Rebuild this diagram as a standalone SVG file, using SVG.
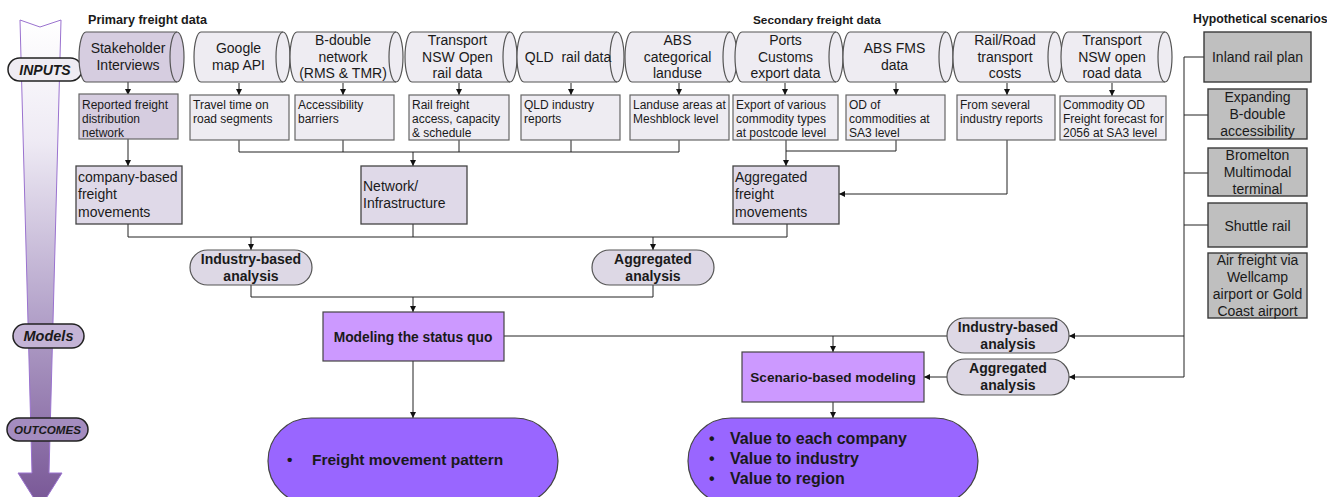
<svg xmlns="http://www.w3.org/2000/svg" width="1327" height="497" viewBox="0 0 1327 497">
<style>
text{font-family:"Liberation Sans",Arial,sans-serif;fill:#1a1a1a}
.t14{font-size:14px}
.t12{font-size:12px}
.c{text-anchor:middle}
.b{font-weight:bold}
.cyl{fill:#eeecf2;stroke:#555;stroke-width:1.2}
.cylD{fill:#d6cde0;stroke:#555;stroke-width:1.2}
.cap{fill:none;stroke:#555;stroke-width:1.2}
.sub{fill:#eeecf2;stroke:#666;stroke-width:1.2}
.subD{fill:#d6cde0;stroke:#666;stroke-width:1.2}
.mid{fill:#dfd9e8;stroke:#444;stroke-width:1.3}
.pill{fill:#ddd8e5;stroke:#555;stroke-width:1.2}
.gray{fill:#bfbfbf;stroke:#3a3a3a;stroke-width:1.4}
.model{fill:#cc99ff;stroke:#444;stroke-width:1.2}
.out{fill:#9966ff;stroke:#444;stroke-width:1.2}
.lbl{stroke:#222;stroke-width:1.5}
.conn{stroke:#222;stroke-width:1;fill:none}
.arr{marker-end:url(#ah)}
.title{font-size:12.3px;font-weight:bold}
.side{font-weight:bold;font-style:italic}
</style>
<defs>
<marker id="ah" viewBox="0 0 8 8" refX="8" refY="4" markerWidth="6" markerHeight="6" orient="auto"><path d="M0,0 L8,4 L0,8 z" fill="#111"/></marker>
<linearGradient id="bigArrow" x1="0" y1="0" x2="0" y2="1">
<stop offset="0" stop-color="#ffffff"/>
<stop offset="0.25" stop-color="#eeeaf4"/>
<stop offset="0.6" stop-color="#b4a3ca"/>
<stop offset="1" stop-color="#775595"/>
</linearGradient>
</defs>

<!-- big side arrow -->
<g id="side-arrow">
<path d="M20,20 L40,27 L61,20 L49,473 L62,473 L40,508 L18,473 L32,473 Z" fill="url(#bigArrow)" stroke="#9a72cf" stroke-width="1"/>
<rect x="8" y="58" width="74" height="23" rx="11.5" fill="#efecf3" class="lbl"/>
<text x="45" y="75" class="side c" style="font-size:14px">INPUTS</text>
<rect x="13" y="324" width="71" height="24" rx="12" fill="#c4b4d6" class="lbl"/>
<text x="48.5" y="341" class="side c" style="font-size:14.5px">Models</text>
<rect x="7" y="418" width="81" height="23" rx="11.5" fill="#a48cbf" class="lbl"/>
<text x="47.5" y="434" class="side c" style="font-size:11.6px">OUTCOMES</text>
</g>

<!-- titles -->
<text x="88" y="23.5" class="title" style="font-size:12.6px">Primary freight data</text>
<text x="753" y="23.5" class="title" style="font-size:11.8px">Secondary freight data</text>
<text x="1193" y="22.5" class="title">Hypothetical scenarios</text>

<!-- connectors -->
<g id="connectors">
<path class="conn arr" d="M128,82 V95"/>
<path class="conn arr" d="M239,83 V95"/>
<path class="conn arr" d="M343,83 V95"/>
<path class="conn arr" d="M459,83 V95"/>
<path class="conn arr" d="M571,83 V95"/>
<path class="conn arr" d="M679,83 V95"/>
<path class="conn arr" d="M785,83 V95"/>
<path class="conn arr" d="M896,83 V95"/>
<path class="conn arr" d="M1007,83 V95"/>
<path class="conn arr" d="M1112,83 V96"/>
<path class="conn arr" d="M128,139 V166"/>
<path class="conn" d="M239,140 V152 H679 V140 M343,140 V152 M459,140 V152 M571,140 V152"/>
<path class="conn arr" d="M413,152 V166"/>
<path class="conn" d="M896,140 V151 H786"/>
<path class="conn arr" d="M786,140 V166"/>
<path class="conn arr" d="M1007,140 V194 H839"/>
<path class="conn" d="M128,224 V237 H787 V224 M413,224 V237"/>
<path class="conn arr" d="M251,237 V250"/>
<path class="conn arr" d="M653,237 V250"/>
<path class="conn" d="M251,285 V297 H653 V285"/>
<path class="conn arr" d="M413,297 V312"/>
<path class="conn arr" d="M413,361 V418"/>
<path class="conn" d="M504,336 H947"/>
<path class="conn arr" d="M833,336 V352"/>
<path class="conn arr" d="M833,402 V418"/>
<path class="conn arr" d="M947,377 H924"/>
<path class="conn" d="M1204,57 H1184 V377 M1184,115 H1208 M1184,173 H1208 M1184,225 H1208"/>
<path class="conn arr" d="M1184,336 H1069"/>
<path class="conn arr" d="M1184,377 H1069"/>
</g>

<!-- cylinders -->
<g id="stakeholder-interviews">
<path class="cylD" d="M86,32 H177 A7 25 0 0 1 177,82 H86 A7 25 0 0 1 86,32 Z"/>
<path class="cap" d="M177,32 A7 25 0 0 0 177,82"/>
<text class="t14 c" x="128" y="53">Stakeholder</text>
<text class="t14 c" x="128" y="70">Interviews</text>
</g>
<g id="google-map-api">
<path class="cyl" d="M201,32 H283 A7 25 0 0 1 283,82 H201 A7 25 0 0 1 201,32 Z"/>
<path class="cap" d="M283,32 A7 25 0 0 0 283,82"/>
<text class="t14 c" x="238.5" y="53">Google</text>
<text class="t14 c" x="238.5" y="70">map API</text>
</g>
<g id="b-double-network">
<path class="cyl" d="M297,32 H396 A7 25 0 0 1 396,82 H297 A7 25 0 0 1 297,32 Z"/>
<path class="cap" d="M396,32 A7 25 0 0 0 396,82"/>
<text class="t14 c" x="343" y="45">B-double</text>
<text class="t14 c" x="343" y="61.5">network</text>
<text class="t14 c" x="343" y="78">(RMS &amp; TMR)</text>
</g>
<g id="tnsw-rail">
<path class="cyl" d="M412,32 H510 A7 25 0 0 1 510,82 H412 A7 25 0 0 1 412,32 Z"/>
<path class="cap" d="M510,32 A7 25 0 0 0 510,82"/>
<text class="t14 c" x="457.5" y="45">Transport</text>
<text class="t14 c" x="457.5" y="61.5">NSW Open</text>
<text class="t14 c" x="457.5" y="78">rail data</text>
</g>
<g id="qld-rail">
<path class="cyl" d="M524,32 H617 A7 25 0 0 1 617,82 H524 A7 25 0 0 1 524,32 Z"/>
<path class="cap" d="M617,32 A7 25 0 0 0 617,82"/>
<text class="t14 c" x="568" y="62" style="white-space:pre">QLD  rail data</text>
</g>
<g id="abs-landuse">
<path class="cyl" d="M632,32 H730 A7 25 0 0 1 730,82 H632 A7 25 0 0 1 632,32 Z"/>
<path class="cap" d="M730,32 A7 25 0 0 0 730,82"/>
<text class="t14 c" x="677.5" y="45">ABS</text>
<text class="t14 c" x="677.5" y="61.5">categorical</text>
<text class="t14 c" x="677.5" y="78">landuse</text>
</g>
<g id="ports-customs">
<path class="cyl" d="M742,32 H836 A7 25 0 0 1 836,82 H742 A7 25 0 0 1 742,32 Z"/>
<path class="cap" d="M836,32 A7 25 0 0 0 836,82"/>
<text class="t14 c" x="785.5" y="45">Ports</text>
<text class="t14 c" x="785.5" y="61.5">Customs</text>
<text class="t14 c" x="785.5" y="78">export data</text>
</g>
<g id="abs-fms">
<path class="cyl" d="M850,32 H946 A7 25 0 0 1 946,82 H850 A7 25 0 0 1 850,32 Z"/>
<path class="cap" d="M946,32 A7 25 0 0 0 946,82"/>
<text class="t14 c" x="894.5" y="53">ABS FMS</text>
<text class="t14 c" x="894.5" y="70">data</text>
</g>
<g id="rail-road-costs">
<path class="cyl" d="M960,32 H1055 A7 25 0 0 1 1055,82 H960 A7 25 0 0 1 960,32 Z"/>
<path class="cap" d="M1055,32 A7 25 0 0 0 1055,82"/>
<text class="t14 c" x="1005" y="45">Rail/Road</text>
<text class="t14 c" x="1005" y="61.5">transport</text>
<text class="t14 c" x="1005" y="78">costs</text>
</g>
<g id="tnsw-road">
<path class="cyl" d="M1068,32 H1165 A7 25 0 0 1 1165,82 H1068 A7 25 0 0 1 1068,32 Z"/>
<path class="cap" d="M1165,32 A7 25 0 0 0 1165,82"/>
<text class="t14 c" x="1112" y="45">Transport</text>
<text class="t14 c" x="1112" y="61.5">NSW open</text>
<text class="t14 c" x="1112" y="78">road data</text>
</g>

<!-- sub boxes -->
<g id="reported-network">
<rect class="subD" x="79" y="94" width="99" height="45"/>
<text class="t12" x="82" y="108.5">Reported freight</text>
<text class="t12" x="82" y="122.5">distribution</text>
<text class="t12" x="82" y="136.5">network</text>
</g>
<g id="travel-time">
<rect class="sub" x="190" y="95" width="99" height="45"/>
<text class="t12" x="193" y="109">Travel time on</text>
<text class="t12" x="193" y="123">road segments</text>
</g>
<g id="accessibility">
<rect class="sub" x="295" y="95" width="99" height="45"/>
<text class="t12" x="298" y="109">Accessibility</text>
<text class="t12" x="298" y="123">barriers</text>
</g>
<g id="rail-freight-access">
<rect class="sub" x="409" y="95" width="100" height="45"/>
<text class="t12" x="412" y="109">Rail freight</text>
<text class="t12" x="412" y="123">access, capacity</text>
<text class="t12" x="412" y="137">&amp; schedule</text>
</g>
<g id="qld-industry">
<rect class="sub" x="521" y="95" width="99" height="45"/>
<text class="t12" x="524" y="109">QLD industry</text>
<text class="t12" x="524" y="123">reports</text>
</g>
<g id="landuse-areas">
<rect class="sub" x="630" y="95" width="99" height="45"/>
<text class="t12" x="633" y="109">Landuse areas at</text>
<text class="t12" x="633" y="123">Meshblock level</text>
</g>
<g id="export-commodity">
<rect class="sub" x="733" y="95" width="105" height="45"/>
<text class="t12" x="736" y="109">Export of various</text>
<text class="t12" x="736" y="123">commodity types</text>
<text class="t12" x="736" y="137">at postcode level</text>
</g>
<g id="od-commodities">
<rect class="sub" x="846" y="95" width="99" height="45"/>
<text class="t12" x="849" y="109">OD of</text>
<text class="t12" x="849" y="123">commodities at</text>
<text class="t12" x="849" y="137">SA3 level</text>
</g>
<g id="industry-reports">
<rect class="sub" x="957" y="95" width="98" height="45"/>
<text class="t12" x="960" y="109">From several</text>
<text class="t12" x="960" y="123">industry reports</text>
</g>
<g id="commodity-forecast">
<rect class="sub" x="1060" y="96" width="106" height="44"/>
<text class="t12" x="1063" y="109">Commodity OD</text>
<text class="t12" x="1063" y="123">Freight forecast for</text>
<text class="t12" x="1063" y="137">2056 at SA3 level</text>
</g>

<!-- middle boxes -->
<g id="company-movements">
<rect class="mid" x="76" y="166" width="106" height="58"/>
<text class="t14" x="78" y="182">company-based</text>
<text class="t14" x="78" y="199">freight</text>
<text class="t14" x="78" y="217">movements</text>
</g>
<g id="network-infrastructure">
<rect class="mid" x="361" y="166" width="106" height="58"/>
<text class="t14" x="363" y="191">Network/</text>
<text class="t14" x="363" y="208">Infrastructure</text>
</g>
<g id="aggregated-movements">
<rect class="mid" x="733" y="166" width="106" height="58"/>
<text class="t14" x="735" y="182">Aggregated</text>
<text class="t14" x="735" y="199">freight</text>
<text class="t14" x="735" y="217">movements</text>
</g>

<!-- pills -->
<g id="industry-analysis-1">
<rect class="pill" x="190" y="250" width="122" height="35" rx="17.5"/>
<text class="t14 c b" x="251" y="264">Industry-based</text>
<text class="t14 c b" x="251" y="281">analysis</text>
</g>
<g id="aggregated-analysis-1">
<rect class="pill" x="592" y="250" width="122" height="35" rx="17.5"/>
<text class="t14 c b" x="653" y="264">Aggregated</text>
<text class="t14 c b" x="653" y="281">analysis</text>
</g>
<g id="industry-analysis-2">
<rect class="pill" x="947" y="318" width="122" height="35" rx="17.5"/>
<text class="t14 c b" x="1008" y="332">Industry-based</text>
<text class="t14 c b" x="1008" y="349">analysis</text>
</g>
<g id="aggregated-analysis-2">
<rect class="pill" x="947" y="359" width="122" height="36" rx="18"/>
<text class="t14 c b" x="1008" y="373">Aggregated</text>
<text class="t14 c b" x="1008" y="390">analysis</text>
</g>

<!-- models -->
<g id="status-quo">
<rect class="model" x="323" y="312" width="181" height="49"/>
<text class="c b" x="413" y="341.5" style="font-size:13.8px">Modeling the status quo</text>
</g>
<g id="scenario-modeling">
<rect class="model" x="742" y="352" width="182" height="50"/>
<text class="c b" x="833" y="382" style="font-size:13.6px">Scenario-based modeling</text>
</g>

<!-- outcomes -->
<g id="outcome-pattern">
<rect class="out" x="268" y="418" width="290" height="86" rx="43"/>
<text class="b" x="287" y="465" style="font-size:15.5px">•</text>
<text class="b" x="312" y="465" style="font-size:15.5px">Freight movement pattern</text>
</g>
<g id="outcome-value">
<rect class="out" x="688" y="418" width="290" height="86" rx="43"/>
<text class="b" x="709" y="444" style="font-size:16px">•</text>
<text class="b" x="730" y="444" style="font-size:16px">Value to each company</text>
<text class="b" x="709" y="464" style="font-size:16px">•</text>
<text class="b" x="730" y="464" style="font-size:16px">Value to industry</text>
<text class="b" x="709" y="484" style="font-size:16px">•</text>
<text class="b" x="730" y="484" style="font-size:16px">Value to region</text>
</g>

<!-- scenarios -->
<g id="inland-rail">
<rect class="gray" x="1204" y="32" width="107" height="50"/>
<text class="t14 c" x="1257.5" y="62">Inland rail plan</text>
</g>
<g id="b-double-expansion">
<rect class="gray" x="1208" y="89" width="99" height="50"/>
<text class="t14 c" x="1257.5" y="102">Expanding</text>
<text class="t14 c" x="1257.5" y="118.5">B-double</text>
<text class="t14 c" x="1257.5" y="135.5">accessibility</text>
</g>
<g id="bromelton">
<rect class="gray" x="1208" y="148" width="99" height="48"/>
<text class="t14 c" x="1257.5" y="159.5">Bromelton</text>
<text class="t14 c" x="1257.5" y="176.5">Multimodal</text>
<text class="t14 c" x="1257.5" y="194">terminal</text>
</g>
<g id="shuttle-rail">
<rect class="gray" x="1208" y="203" width="99" height="44"/>
<text class="t14 c" x="1257.5" y="231">Shuttle rail</text>
</g>
<g id="air-freight">
<rect class="gray" x="1208" y="253" width="99" height="65"/>
<text class="t14 c" x="1257.5" y="265">Air freight via</text>
<text class="t14 c" x="1257.5" y="281.5">Wellcamp</text>
<text class="t14 c" x="1257.5" y="299">airport or Gold</text>
<text class="t14 c" x="1257.5" y="316">Coast airport</text>
</g>
</svg>
